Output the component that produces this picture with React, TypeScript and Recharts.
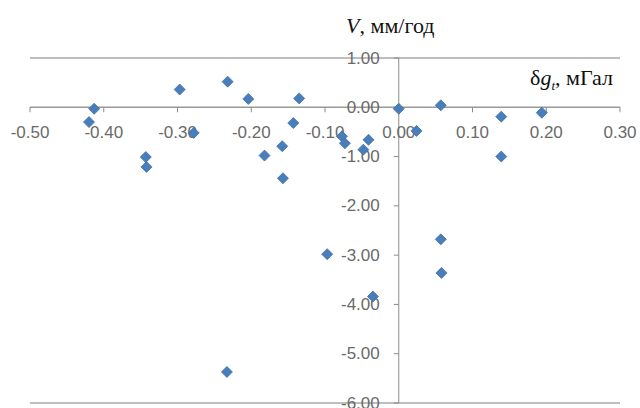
import * as React from "react";
import {
  ScatterChart,
  Scatter,
  XAxis,
  YAxis,
  CartesianGrid,
  ReferenceLine,
  ReferenceDot,
} from "recharts";

// δg_t, мГал
const dgValues = [
  -0.413, -0.42, -0.297, -0.278, -0.343, -0.342, -0.232, -0.204, -0.135, -0.143,
  -0.158, -0.182, -0.157, -0.077, -0.073, -0.041, -0.048, 0.0, 0.024, 0.057,
  0.139, 0.139, 0.194, 0.057, 0.058, -0.097, -0.035, -0.233,
];

// V, мм/год
const vValues = [
  -0.03, -0.3, 0.36, -0.52, -1.01, -1.21, 0.52, 0.17, 0.18, -0.32,
  -0.79, -0.98, -1.44, -0.59, -0.73, -0.66, -0.86, -0.03, -0.48, 0.04,
  -0.19, -1.0, -0.11, -2.68, -3.36, -2.98, -3.84, -5.37,
];

const xTicks = [-0.5, -0.4, -0.3, -0.2, -0.1, 0, 0.1, 0.2, 0.3];
const yTicks = [-6, -5, -4, -3, -2, -1, 0, 1];

const points = dgValues.map((dg, i) => ({ dg, v: vValues[i] }));

const W = 640;
const H = 408;
const labelFont = "'Liberation Sans', Arial, sans-serif";
const titleFont = "'Liberation Serif', 'Times New Roman', serif";
const labelColor = "#6a6a6a";
const gridColor = "#a9a9a9";

const fmt = (n: number) => n.toFixed(2);

// excel-style square diamond
function Diamond({ cx, cy }: any) {
  const r = 5.5;
  return (
    <polygon
      points={`${cx},${cy - r} ${cx + r},${cy} ${cx},${cy + r} ${cx - r},${cy}`}
      fill="#4a7ebb"
      stroke="#3f6fa8"
      strokeWidth={0.8}
    />
  );
}

function XTick({ cx, cy, value }: any) {
  return (
    <g>
      <line x1={cx} y1={cy} x2={cx} y2={cy + 5} stroke="#8c8c8c" strokeWidth={1} />
      <text
        x={cx}
        y={cy + 25}
        textAnchor="middle"
        dominantBaseline="central"
        fontFamily={labelFont}
        fontSize={17}
        fill={labelColor}
      >
        {fmt(value)}
      </text>
    </g>
  );
}

function YTick({ cx, cy, value }: any) {
  return (
    <g>
      <line x1={cx - 5} y1={cy} x2={cx} y2={cy} stroke="#8c8c8c" strokeWidth={1} />
      <text
        x={cx - 19}
        y={cy}
        textAnchor="end"
        dominantBaseline="central"
        fontFamily={labelFont}
        fontSize={17}
        fill={labelColor}
      >
        {fmt(value)}
      </text>
    </g>
  );
}

export default function App() {
  return (
    <div style={{ position: "absolute", left: 0, top: 0, width: W, height: H, background: "#fff" }}>
      <ScatterChart
        width={W}
        height={H}
        margin={{ top: 58, right: 20, bottom: 5, left: 30 }}
      >
        <CartesianGrid vertical={false} stroke={gridColor} strokeWidth={1.5} />
        <XAxis
          type="number"
          dataKey="dg"
          domain={[-0.5, 0.3]}
          ticks={xTicks}
          height={0}
          tick={false}
          tickLine={false}
          axisLine={false}
        />
        <YAxis
          type="number"
          dataKey="v"
          domain={[-6, 1]}
          ticks={yTicks}
          width={0}
          tick={false}
          tickLine={false}
          axisLine={false}
        />
        <ReferenceLine y={0} stroke="#999" strokeWidth={1.5} />
        <ReferenceLine x={0} stroke="#8c8c8c" strokeWidth={1} />
        {xTicks.map((t) => (
          <ReferenceDot
            key={`x${t}`}
            x={t}
            y={0}
            r={0}
            shape={(p: any) => <XTick {...p} value={t} />}
          />
        ))}
        {yTicks.map((t) => (
          <ReferenceDot
            key={`y${t}`}
            x={0}
            y={t}
            r={0}
            shape={(p: any) => <YTick {...p} value={t} />}
          />
        ))}
        <Scatter
          data={points}
          shape={(p: any) => <Diamond {...p} />}
          fill="#4a7ebb"
          isAnimationActive={false}
        />
      </ScatterChart>
      <div
        style={{
          position: "absolute",
          left: 346,
          top: 13,
          fontFamily: titleFont,
          fontSize: 22,
          color: "#111",
          whiteSpace: "nowrap",
        }}
      >
        <i>V</i>, мм/год
      </div>
      <div
        style={{
          position: "absolute",
          left: 530,
          top: 65,
          fontFamily: titleFont,
          fontSize: 22,
          color: "#111",
          whiteSpace: "nowrap",
        }}
      >
        δ<i>g</i>
        <sub style={{ fontSize: 13 }}>
          <i>t</i>
        </sub>
        , мГал
      </div>
    </div>
  );
}
